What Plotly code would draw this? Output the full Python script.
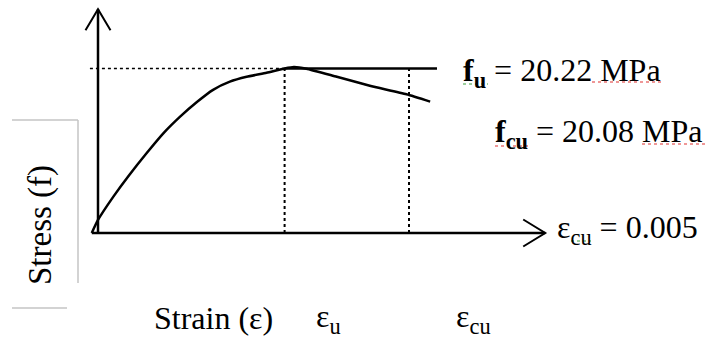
import plotly.graph_objects as go

# Idealised concrete stress-strain curve (schematic)
strain = [-0.0001, 0.0, 0.00025, 0.0005, 0.00078, 0.00105, 0.00132, 0.00159,
          0.00185, 0.00212, 0.00239, 0.00271, 0.0030, 0.00315, 0.00335,
          0.00384, 0.00437, 0.00496, 0.00534]
stress = [0.0, 1.6, 4.5, 7.1, 9.8, 12.25, 14.3, 16.1,
          17.6, 18.6, 19.2, 19.7, 20.22, 20.4, 20.2,
          19.2, 18.1, 17.05, 16.15]

EPS_U = 0.003
EPS_CU = 0.005
F_U = 20.22
F_CU = 20.08

# extents of the schematic axes and guide lines (data units)
X_AXIS_END = 0.00719
Y_AXIS_END = 27.5
FLAT_END = 0.00545
DOT_START = -0.00013

W, H = 715, 340
X_RANGE = [-0.0015756, 0.0099196]
Y_RANGE = [-13.152, 28.64]

def dx(px):
    return px * (X_RANGE[1] - X_RANGE[0]) / W

def dy(px):
    return px * (Y_RANGE[1] - Y_RANGE[0]) / H

BLACK = "#000000"
fig = go.Figure()

def seg(xs, ys, width=2.5, dash="solid", color=BLACK):
    fig.add_trace(go.Scatter(x=xs, y=ys, mode="lines", hoverinfo="skip",
                             line=dict(color=color, width=width, dash=dash),
                             showlegend=False))

# axes with open arrowheads
seg([strain[0], X_AXIS_END], [0, 0], width=2.5)
seg([0, 0], [0, Y_AXIS_END], width=2.5)
seg([X_AXIS_END - dx(22), X_AXIS_END, X_AXIS_END - dx(22)],
    [dy(13.5), 0, -dy(13.5)], width=2)
seg([-dx(12.5), 0, dx(12.5)],
    [Y_AXIS_END - dy(21), Y_AXIS_END, Y_AXIS_END - dy(21)], width=2)

# guide lines
seg([DOT_START, EPS_U], [F_U, F_U], width=1.5, dash="dot")
seg([EPS_U, EPS_U], [0, F_U], width=2, dash="dot")
seg([EPS_CU, EPS_CU], [0, F_U], width=2, dash="dot")
seg([EPS_U, FLAT_END], [F_U, F_U], width=2.5)

# the curve
fig.add_trace(go.Scatter(x=strain, y=stress, mode="lines", hoverinfo="skip",
                         line=dict(color=BLACK, width=2.5, shape="spline",
                                   smoothing=0.5),
                         showlegend=False))

FONT = "Liberation Serif"

def label(text, px, py, size=32, anchor="left", angle=0):
    fig.add_annotation(x=px / W, y=1 - py / H, xref="paper", yref="paper",
                       text=text, showarrow=False, xanchor=anchor,
                       yanchor="middle", textangle=angle,
                       font=dict(family=FONT, size=size, color=BLACK))

label(f"<b>f</b><sub><b>u</b></sub> = {F_U:.2f} MPa", 461, 72)
label(f"<b>f</b><sub><b>cu</b></sub> = {F_CU:.2f} MPa", 493, 134)
label(f"ε<sub>cu</sub> = {EPS_CU:g}", 555, 229)
label("Strain (ε)", 152, 318)
label("ε<sub>u</sub>", 314, 318)
label("ε<sub>cu</sub>", 454, 318)
label("Stress (f)", 40, 225, size=33, anchor="center", angle=-90)

# table rule lines around the vertical title
GRAY = "#c4c4c4"
for x0, y0, x1, y1 in [(78, 120, 78, 283), (12, 120, 78, 120), (12, 308, 67, 308)]:
    fig.add_shape(type="line", xref="paper", yref="paper",
                  x0=x0 / W, y0=1 - y0 / H, x1=x1 / W, y1=1 - y1 / H,
                  line=dict(color=GRAY, width=1.5))

# proofing underlines beneath some words
for x0, x1, y, c in [(463, 488, 84, "#3aa03a"), (592, 662, 82, "#e03030"),
                     (495, 530, 146, "#e03030"), (642, 705, 144, "#e03030"),
                     (571, 591, 241, "#3aa03a")]:
    fig.add_shape(type="line", xref="paper", yref="paper",
                  x0=x0 / W, y0=1 - y / H, x1=x1 / W, y1=1 - y / H,
                  line=dict(color=c, width=1.2, dash="dot"))

fig.update_layout(width=W, height=H, margin=dict(l=0, r=0, t=0, b=0),
                  paper_bgcolor="white", plot_bgcolor="white",
                  xaxis=dict(range=X_RANGE, visible=False, fixedrange=True),
                  yaxis=dict(range=Y_RANGE, visible=False, fixedrange=True))

fig.write_html("out.html")
